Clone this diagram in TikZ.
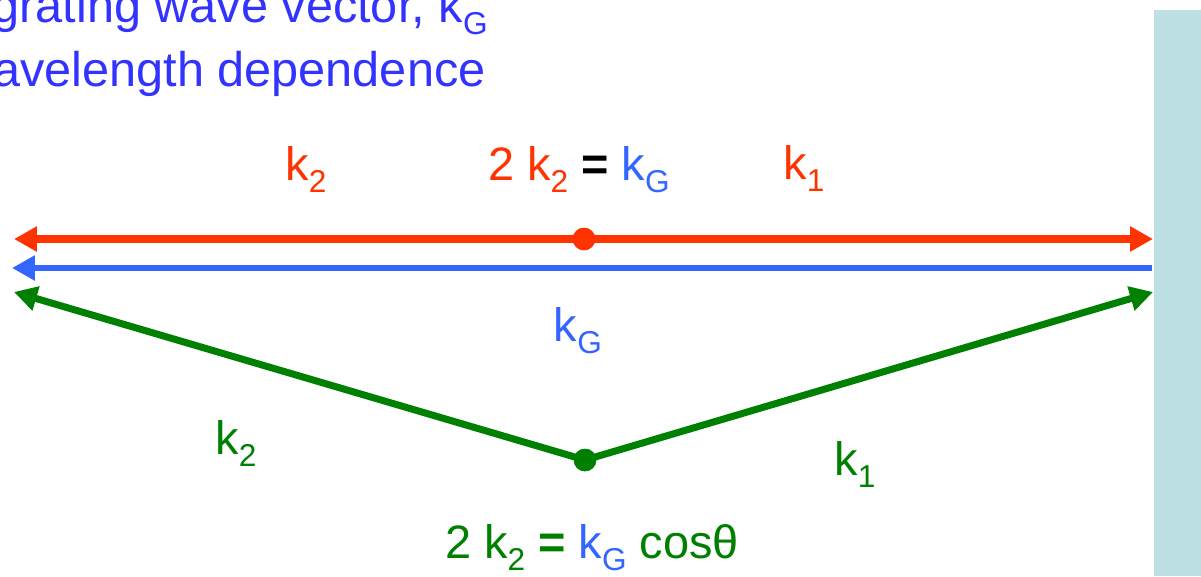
\documentclass[tikz,border=0pt]{standalone}
\usepackage{fontspec}
\setmainfont{Liberation Sans}
\usetikzlibrary{arrows.meta}
\definecolor{kred}{RGB}{255,51,0}
\definecolor{kblue}{RGB}{51,102,255}
\definecolor{tblue}{RGB}{51,51,255}
\definecolor{kgreen}{RGB}{0,128,0}
\definecolor{wall}{RGB}{188,224,227}
\newcommand\subsc[1]{\raisebox{-7pt}{\fontsize{18}{20}\selectfont #1}}

\begin{document}
\begin{tikzpicture}[x=0.02cm,y=-0.02cm,
  every node/.style={font=\fontsize{26.7}{32}\selectfont,inner sep=0pt,anchor=base},
  head/.style={text=tblue,anchor=base east,font=\fontsize{27.7}{33}\selectfont},
  tip/.style={-{Triangle[length=0.46cm,width=0.48cm]}},
  R/.style={draw=kred,line width=0.15cm},
  B/.style={draw=kblue,line width=0.12cm},
  G/.style={draw=kgreen,line width=0.14cm},
  dot/.style={circle,anchor=center,minimum size=0.45cm,inner sep=0pt}]

  \useasboundingbox (0,0) rectangle (1201,576);
  \clip (0,0) rectangle (1201,576);

  %% ---- heading (cut off at the page edge)
  \node[head] (head1) at (488,22) {grating wave vector, k\subsc{G}};
  \node[head] (head2) at (486,86) {wavelength dependence};

  %% ---- wall on the right
  \fill[wall] (1154,10) rectangle (1201,576);

  %% ---- end points of the vectors
  \coordinate (rL) at (14,239);
  \coordinate (rR) at (1153,239);
  \coordinate (bL) at (12,268);
  \coordinate (bR) at (1152,268);
  \coordinate (gL) at (14,292);
  \coordinate (gR) at (1153,292);

  %% ---- centre dots
  \node[dot,fill=kred]   (rc) at (584,239) {};
  \node[dot,fill=kgreen] (gc) at (585,460) {};

  %% ---- vectors
  % red: back reflection
  \draw[R,tip] (rc.center) -- (rL);
  \draw[R,tip] (rc.center) -- (rR);
  % blue: grating vector
  \draw[B,tip] (bR) -- (bL);
  % green: oblique
  \draw[G,tip] (gc.center) -- (gL);
  \draw[G,tip] (gc.center) -- (gR);
  % dots again on top
  \node[dot,fill=kred]   at (rc) {};
  \node[dot,fill=kgreen] at (gc) {};

  %% ---- labels
  \node[text=kred] (rk2) at (306,180) {k\subsc{2}};
  \node (req) at (579,180) {\color{kred}2 k\subsc{2} \color{black}\textbf{=} \color{kblue}k\subsc{G}};
  \node[text=kred] (rk1) at (804,179) {k\subsc{1}};
  \node[text=kblue] (bkG) at (578,341) {k\subsc{G}};
  \node[text=kgreen] (gk2) at (236,454) {k\subsc{2}};
  \node[text=kgreen] (gk1) at (855,475) {k\subsc{1}};
  \node (geq) at (592,558) {\color{kgreen}2 k\subsc{2} \textbf{=} \color{kblue}k\subsc{G} \color{kgreen}cosθ};
\end{tikzpicture}
\end{document}
